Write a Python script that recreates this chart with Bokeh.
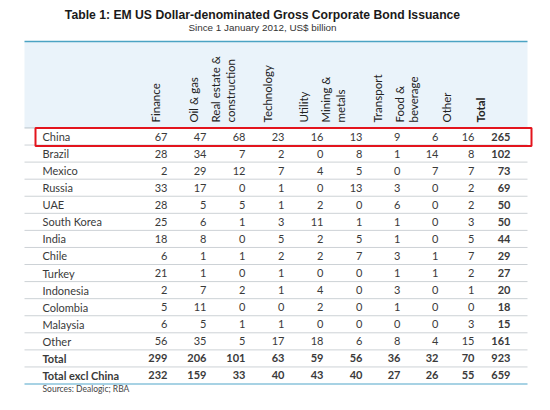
from math import pi
from bokeh.plotting import figure
from bokeh.models import Range1d, ColumnDataSource
from bokeh.core.properties import value
from bokeh.embed import file_html
from bokeh.resources import INLINE

title = "Table 1: EM US Dollar-denominated Gross Corporate Bond Issuance"
subtitle = "Since 1 January 2012, US$ billion"
source_note = "Sources: Dealogic; RBA"

countries = ["China", "Brazil", "Mexico", "Russia", "UAE", "South Korea", "India",
             "Chile", "Turkey", "Indonesia", "Colombia", "Malaysia", "Other",
             "Total", "Total excl China"]
headers = ["Finance", "Oil & gas", "Real estate &\nconstruction", "Technology",
           "Utility", "Mining &\nmetals", "Transport", "Food &\nbeverage", "Other", "Total"]

finance     = [67, 28, 2, 33, 28, 25, 18, 6, 21, 2, 5, 6, 56, 299, 232]
oil_gas     = [47, 34, 29, 17, 5, 6, 8, 1, 1, 7, 11, 5, 35, 206, 159]
real_estate = [68, 7, 12, 0, 5, 1, 0, 1, 0, 2, 0, 1, 5, 101, 33]
technology  = [23, 2, 7, 1, 1, 3, 5, 2, 1, 1, 0, 1, 17, 63, 40]
utility     = [16, 0, 4, 0, 2, 11, 2, 2, 0, 4, 2, 0, 18, 59, 43]
mining      = [13, 8, 5, 13, 0, 1, 5, 7, 0, 0, 0, 0, 6, 56, 40]
transport   = [9, 1, 0, 3, 6, 1, 1, 3, 1, 3, 1, 0, 8, 36, 27]
food_bev    = [6, 14, 7, 0, 0, 0, 0, 1, 1, 0, 0, 0, 4, 32, 26]
other       = [16, 8, 7, 2, 2, 3, 5, 7, 2, 1, 0, 3, 15, 70, 55]
total       = [265, 102, 73, 69, 50, 50, 44, 29, 27, 20, 18, 15, 161, 923, 659]

columns = [finance, oil_gas, real_estate, technology, utility, mining,
           transport, food_bev, other, total]

# ---- layout (pixel coordinates of the picture) ----
col_right = [167, 206, 245, 284, 323, 362, 400, 438, 474, 510]
hdr_x = [155, 193, 222.5, 267, 303, 332.5, 377, 406, 446, 480]
line_gap = 14.5
row_y0, row_dy = 136, 17.07
left, right = 24, 527
FONT = "Lato"

p = figure(width=534, height=394, x_range=Range1d(0, 534), y_range=Range1d(394, 0),
           output_backend="svg", toolbar_location=None, min_border=0,
           x_axis_type=None, y_axis_type=None)
p.grid.visible = False
p.outline_line_color = None
p.background_fill_color = "white"
p.border_fill_color = "white"

n = len(countries)
ys = [row_y0 + i * row_dy for i in range(n)]

# header band
p.quad(left=left, right=right, top=41, bottom=ys[0] - row_dy / 2,
       fill_color="#eaf3fa", line_color=None)
p.segment(x0=left, x1=right, y0=41, y1=41, line_color="#4ba3c3", line_width=1.5)

# row separators
sep_y = [y - row_dy / 2 for y in ys[1:]]
p.segment(x0=[left] * len(sep_y), x1=[right] * len(sep_y), y0=sep_y, y1=sep_y,
          line_color="#cdd2d6", line_width=1)
p.segment(x0=left, x1=right, y0=ys[0] - row_dy / 2, y1=ys[0] - row_dy / 2,
          line_color="#b9c3ca", line_width=1)
p.segment(x0=left, x1=right, y0=ys[-1] + row_dy / 2, y1=ys[-1] + row_dy / 2,
          line_color="#a7d2e4", line_width=2)

# title
p.text(x=[262], y=[14], text=[title], text_font=value("Liberation Sans"),
       text_font_style="bold", text_font_size="12.2px", text_align="center",
       text_baseline="middle", text_color="#1a1a1a")
p.text(x=[262], y=[27], text=[subtitle], text_font=value("Liberation Sans"),
       text_font_size="9.9px", text_align="center", text_baseline="middle",
       text_color="#333333")

# rotated headers
hx, hy, ht, hb = [], [], [], []
for j, h in enumerate(headers):
    parts = h.split("\n")
    k = len(parts)
    for m, part in enumerate(parts):
        hx.append(hdr_x[j] + (m - (k - 1) / 2) * line_gap)
        hy.append(122)
        ht.append(part)
        hb.append("bold" if h == "Total" else "normal")
hsrc = ColumnDataSource(dict(x=hx, y=hy, t=ht, b=hb))
p.text(x="x", y="y", text="t", source=hsrc, angle=pi / 2, text_align="left",
       text_baseline="middle", text_font=value(FONT), text_font_size="11.5px",
       text_font_style="b", text_color="#222222")

# row labels
bold_rows = {"Total", "Total excl China"}
rs = ColumnDataSource(dict(x=[42] * n, y=ys, t=countries,
                           b=["bold" if c in bold_rows else "normal" for c in countries]))
p.text(x="x", y="y", text="t", source=rs, text_font=value(FONT), text_font_size="11px",
       text_font_style="b", text_baseline="middle", text_color="#3a3a3a")

# cells
cx, cy, ct, cb = [], [], [], []
for j, col in enumerate(columns):
    for i, v in enumerate(col):
        cx.append(col_right[j])
        cy.append(ys[i])
        ct.append(str(v))
        cb.append("bold" if (j == len(columns) - 1 or countries[i] in bold_rows) else "normal")
cs = ColumnDataSource(dict(x=cx, y=cy, t=ct, b=cb))
p.text(x="x", y="y", text="t", source=cs, text_font=value(FONT), text_font_size="11px",
       text_font_style="b", text_align="right", text_baseline="middle", text_color="#3a3a3a")

# highlight box around China
p.quad(left=35, right=531, top=ys[0] - row_dy / 2, bottom=ys[0] + row_dy / 2 + 1,
       fill_color=None, line_color="#e3141d", line_width=2)

# source note
p.text(x=[42], y=[388.5], text=[source_note], text_font=value(FONT), text_font_size="8.5px",
       text_baseline="middle", text_color="#444444")

open("out.html", "w").write(file_html(p, INLINE))
